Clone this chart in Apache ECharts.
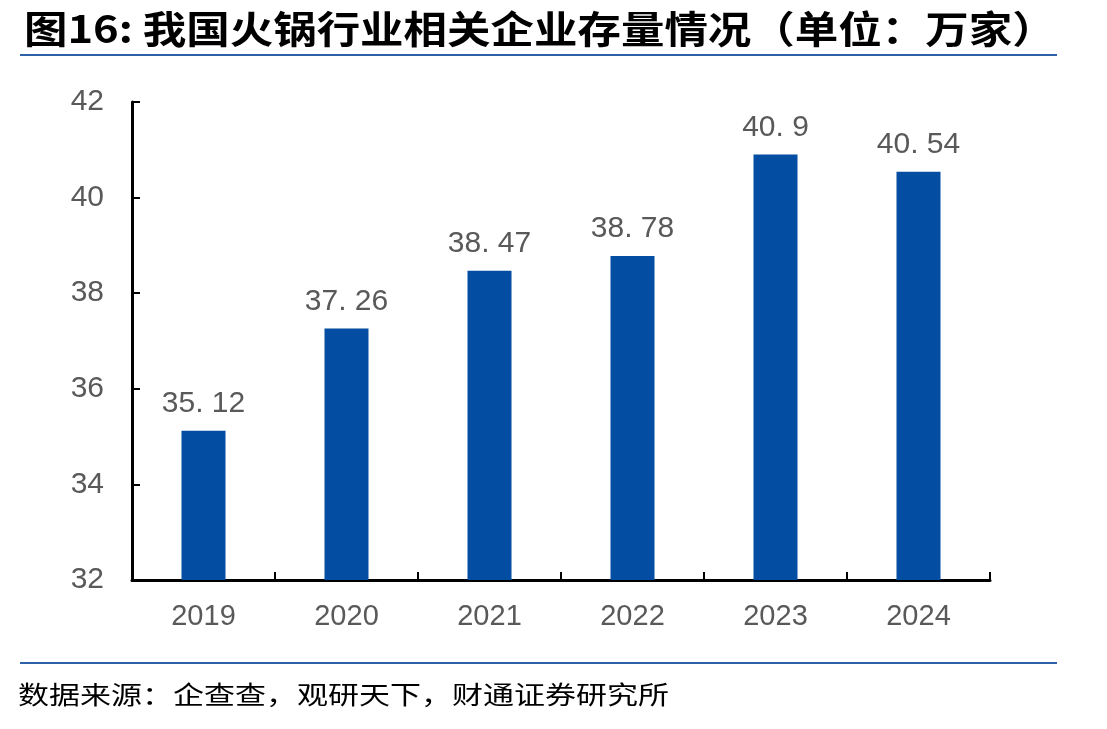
<!DOCTYPE html>
<html><head><meta charset="utf-8">
<script src="https://cdn.jsdelivr.net/npm/echarts@6/dist/echarts.min.js"></script>
<style>html,body{margin:0;padding:0;background:#fff}#c{width:1107px;height:729px}</style>
</head><body><div id="c"></div>
<script>
const categories = ['2019','2020','2021','2022','2023','2024'];
const values = [35.12, 37.26, 38.47, 38.78, 40.9, 40.54];
const yTicks = [32, 34, 36, 38, 40, 42];
const titleText = '图16: 我国火锅行业相关企业存量情况（单位：万家）';
const sourceText = '数据来源：企查查，观研天下，财通证券研究所';

const chart = echarts.init(document.getElementById('c'));
chart.setOption({
  backgroundColor: '#fff',
  animation: false,
  graphic: [
    {type: 'text', x: 24, y: 29, scaleX: 1.035, scaleY: 0.9, z: 10,
      style: {text: titleText, fontFamily: 'Noto Sans CJK SC', fontWeight: 'bold', fontSize: 42,
        fill: '#000', verticalAlign: 'middle', align: 'left'}},
    {type: 'text', x: 18, y: 694, scaleY: 0.82, z: 10,
      style: {text: sourceText, fontFamily: 'Noto Sans CJK SC', fontWeight: 'normal', fontSize: 31,
        fill: '#000', verticalAlign: 'middle', align: 'left'}},
    {type: 'line', shape: {x1: 20, y1: 55, x2: 1057, y2: 55}, style: {stroke: '#2e62a8', lineWidth: 2}},
    {type: 'line', shape: {x1: 20, y1: 663, x2: 1057, y2: 663}, style: {stroke: '#2e62a8', lineWidth: 2}}
  ],
  grid: {left: 132, right: 117, top: 102, bottom: 149},
  xAxis: {
    type: 'category', data: categories,
    axisLine: {lineStyle: {color: '#000', width: 3}},
    axisTick: {show: true, inside: true, length: 8, lineStyle: {color: '#000', width: 2}},
    axisLabel: {color: '#595959', fontSize: 29, margin: 22, fontFamily: 'Liberation Sans'}
  },
  yAxis: {
    type: 'value', min: yTicks[0], max: yTicks[yTicks.length-1], interval: 2,
    axisLine: {show: true, lineStyle: {color: '#000', width: 3}},
    axisTick: {show: true, inside: true, length: 8, lineStyle: {color: '#000', width: 2}},
    splitLine: {show: false},
    axisLabel: {color: '#595959', fontSize: 30, margin: 28, fontFamily: 'Liberation Sans'}
  },
  series: [{
    type: 'bar', data: values, barWidth: 44,
    itemStyle: {color: '#034ea2'},
    label: {show: true, position: 'top', distance: 12, color: '#595959', fontSize: 30,
      fontFamily: 'Liberation Sans',
      formatter: p => String(p.value).replace('.', '. ')}
  }]
});
</script></body></html>
